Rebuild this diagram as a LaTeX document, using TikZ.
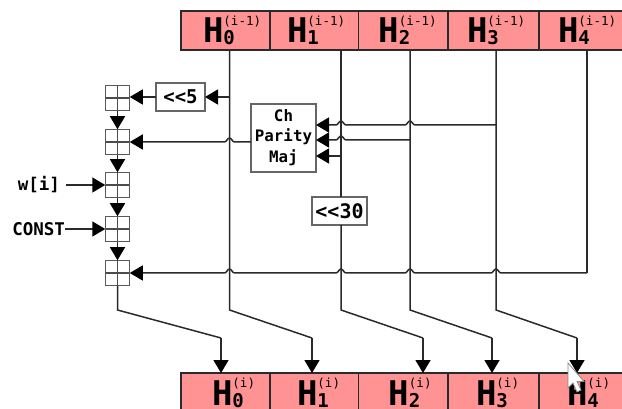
\documentclass[tikz,border=0pt]{standalone}
\usepackage{fontspec}
\setmainfont{DejaVu Sans Mono}
\usetikzlibrary{arrows.meta,calc}
\definecolor{cellred}{HTML}{FF9292}
\definecolor{ink}{HTML}{2A2A2A}
\newcommand{\fsz}[1]{\fontsize{#1}{#1}\selectfont}
% #1 cell width, #2 text offset, #3 baseline drop, #4 subscript, #5 superscript
\newcommand{\hlab}[5]{\makebox[#1pt][l]{\hspace*{#2pt}\smash{\raisebox{-#3pt}{\bfseries\fsz{34}H\rlap{\raisebox{17.5pt}{\fsz{12.5}\mdseries(#5)}}\raisebox{-2pt}{\fsz{19}#4}}}\hfill}}
% horizontal bump over a vertical line, travelling right to left
\newcommand{\hop}[2]{-- ($(#1|-#2)+(5,0)$) .. controls ($(#1|-#2)+(3,0)$) and ($(#1|-#2)+(2,-4)$) .. ($(#1|-#2)+(0,-4)$) .. controls ($(#1|-#2)+(-2,-4)$) and ($(#1|-#2)+(-3,0)$) .. ($(#1|-#2)+(-5,0)$)}
\tikzset{
  cell/.style={draw=ink,line width=1.2pt,fill=cellred,inner sep=0pt,outer sep=0pt,minimum height=#1},
  wire/.style={draw=ink,line width=1.5pt},
  arrowed/.style={wire,-{Triangle[length=13pt,width=15pt,black]}},
  adder/.style={draw=black!65,line width=1.2pt,fill=white,minimum width=24.5pt,minimum height=25.5pt,inner sep=0pt,outer sep=0pt,
    path picture={\draw[black!70,line width=1.1pt] (path picture bounding box.north) -- (path picture bounding box.south) (path picture bounding box.west) -- (path picture bounding box.east);}},
  opbox/.style={draw=black!60,line width=1.2pt,fill=white,inner sep=0pt,outer sep=0pt,font=\bfseries},
  lab/.style={inner sep=0pt,outer sep=0pt,font=\bfseries\fsz{17.5}}
}
\begin{document}
\begin{tikzpicture}[x=1pt,y=-1pt]
\useasboundingbox (0,0) rectangle (622,409);
\clip (0,0) rectangle (622,409);
% named points
\coordinate (v0) at (229.5,50);
\coordinate (v1) at (341,50);
\coordinate (v2) at (410,50);
\coordinate (v3) at (496,50);
\coordinate (v4) at (587,50);
\foreach \n/\x in {0/117.5,1/229.5,2/341,3/410,4/496}{\coordinate (b\n) at (\x,310);}
\foreach \n/\x in {0/221,1/312,2/423,3/492,4/577}{\coordinate (k\n) at (\x,338);}
\coordinate (winput) at (66,185);
\coordinate (cinput) at (65,229);
% adders
\node[adder] (a1) at (117.5,98) {};
\node[adder] (a2) at (117.5,142) {};
\node[adder] (a3) at (117.5,185) {};
\node[adder] (a4) at (117.5,229) {};
\node[adder] (a5) at (117.5,273) {};
% boxes
\node[opbox,minimum width=49pt,minimum height=28pt,font=\bfseries\fsz{19}] (rot5) at (180.5,97) {<{}<5};
\node[opbox,minimum width=65pt,minimum height=68pt,align=center,font=\bfseries\fsz{15.8}] (f) at (283.5,138) {Ch\\[4pt]Parity\\[4pt]Maj};
\node[opbox,minimum width=55pt,minimum height=28pt,font=\bfseries\fsz{20}] (rot30) at (339.5,211) {<{}<30};
% labels
\node[lab,anchor=east] (w) at (60,185) {w[i]};
\node[lab,anchor=east] (c) at (65,229) {CONST};
% state cells
\node[cell=39pt,minimum width=89pt] (t0) at (225.5,30.5) {\hlab{89}{22}{12.5}{0}{i-1}};
\node[cell=39pt,minimum width=88.5pt] (t1) at (314.25,30.5) {\hlab{88.5}{17}{12.5}{1}{i-1}};
\node[cell=39pt,minimum width=89.5pt] (t2) at (403.25,30.5) {\hlab{89.5}{20}{12.5}{2}{i-1}};
\node[cell=39pt,minimum width=91pt] (t3) at (493.5,30.5) {\hlab{91}{19}{12.5}{3}{i-1}};
\node[cell=39pt,minimum width=100pt] (t4) at (589,30.5) {\hlab{100}{19}{12.5}{4}{i-1}};
\node[cell=42pt,minimum width=89pt] (r0) at (225.5,394) {\hlab{89}{31}{11}{0}{i}};
\node[cell=42pt,minimum width=88.5pt] (r1) at (314.25,394) {\hlab{88.5}{27}{11}{1}{i}};
\node[cell=42pt,minimum width=89.5pt] (r2) at (403.25,394) {\hlab{89.5}{30}{11}{2}{i}};
\node[cell=42pt,minimum width=91pt] (r3) at (493.5,394) {\hlab{91}{28}{11}{3}{i}};
\node[cell=42pt,minimum width=100pt] (r4) at (589,394) {\hlab{100}{28}{11}{4}{i}};
% verticals from the top row
\draw[wire] (v0) -- (b1) -- (k1);
\draw[wire] (v1) -- (v1|-rot30.north);
\draw[wire] (v1|-rot30.south) -- (b2) -- (k2);
\draw[wire] (v2) -- (b3) -- (k3);
\draw[wire] (v3) -- (b4) -- (k4);
\draw[wire] (v4) -- (587,273);
% down to the output row
\draw[wire] (a5.south) -- (b0) -- (k0);
\draw[arrowed] (k0) -- (k0|-r0.north);
\draw[arrowed] (k1) -- (k1|-r1.north);
\draw[arrowed] (k2) -- (k2|-r2.north);
\draw[arrowed] (k3) -- (k3|-r3.north);
\draw[arrowed] (k4) -- (k4|-r4.north);
% adder chain
\draw[arrowed] (a1) -- (a2);
\draw[arrowed] (a2) -- (a3);
\draw[arrowed] (a3) -- (a4);
\draw[arrowed] (a4) -- (a5);
\draw[arrowed] (rot5) -- (a1.east|-rot5);
\draw[arrowed] (v0|-rot5) -- (rot5);
\draw[arrowed] (winput) -- (a3);
\draw[arrowed] (cinput) -- (a4);
% hops
\coordinate (yf) at (0,142);
\draw[arrowed] (f.west|-yf) \hop{v0}{yf} -- (a2.east|-yf);
\coordinate (y5) at (0,273);
\draw[arrowed] (v4|-y5) \hop{v3}{y5} \hop{v2}{y5} \hop{v1}{y5} \hop{v0}{y5} -- (a5.east|-y5);
\coordinate (y1) at (0,125);
\coordinate (y2) at (0,140);
\coordinate (y3) at (0,156);
\draw[arrowed] (v3|-y1) \hop{v2}{y1} \hop{v1}{y1} -- (f.east|-y1);
\draw[arrowed] (v2|-y2) \hop{v1}{y2} -- (f.east|-y2);
\draw[arrowed] (v1|-y3) -- (f.east|-y3);
% pointer
\fill[white,draw=black!45,line width=.8pt] (568,363) -- (568,388) -- (573,383) -- (577,392) -- (581,390) -- (577,381.5) -- (584,381.5) -- cycle;
\end{tikzpicture}
\end{document}
